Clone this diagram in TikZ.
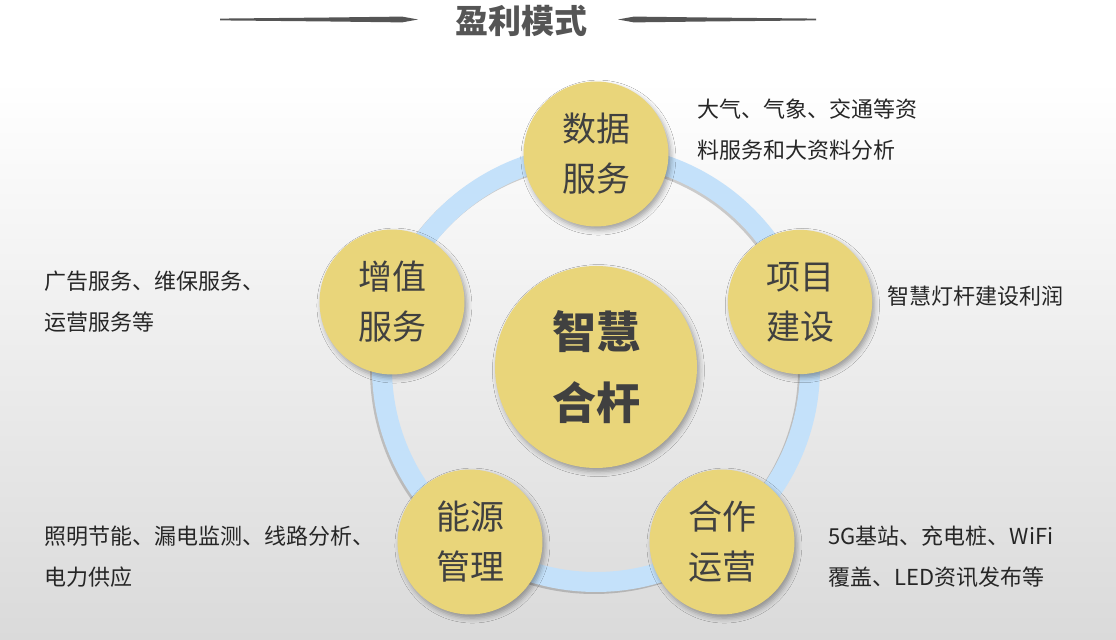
\documentclass[tikz,border=0pt]{standalone}
\usepackage{fontspec}
\setmainfont{Noto Sans CJK SC}
\usetikzlibrary{positioning,shadows.blur}
\definecolor{ringblue}{RGB}{196,225,250}
\definecolor{ballyellow}{RGB}{233,213,122}
\definecolor{textgray}{RGB}{64,64,64}
\definecolor{titlegray}{RGB}{85,85,85}
\definecolor{bggray}{RGB}{218,218,218}
\tikzset{
    profit element/.style={
        circle,fill=ballyellow,
        minimum size=70pt,inner sep=0pt,
        text width=60pt,align=center,
        text=textgray,
        font=\fontsize{17}{25}\selectfont,
        blur shadow={shadow xshift=1.2pt,shadow yshift=-1.8pt,
            shadow blur radius=2.5pt,shadow opacity=35}
    },
    core element/.style={
        profit element,
        minimum size=101pt,text width=80pt,
        font=\fontsize{22}{35.5}\selectfont\bfseries
    },
    desc element/.style={
        anchor=west,inner sep=0pt,align=left,
        text=black!85,
        font=\fontsize{11}{20.5}\selectfont
    }
}

\begin{document}
\begin{tikzpicture}[x=0.5pt,y=-0.5pt]
\useasboundingbox (0,0) rectangle (1116,640);
\fill[white] (0,0) rectangle (1116,80);
\shade[top color=white,bottom color=bggray] (0,80) rectangle (1116,640);

% title with the two tapered arrows
\node[text=titlegray,font=\fontsize{16.5}{20}\selectfont\bfseries] (title) at (521,21) {盈利模式};
\fill[titlegray] (220,18.6) -- (330,17.5) -- (402,16.6) -- (418,19.5) -- (402,22.4) -- (330,21.5) -- (220,20.4) -- cycle;
\fill[titlegray] (816,18.6) -- (706,17.5) -- (634,16.6) -- (618,19.5) -- (634,22.4) -- (706,21.5) -- (816,20.4) -- cycle;

% ring with a faint shadow
\node[circle,minimum size=214pt,inner sep=0pt] (ring) at (596,368) {};
\draw[black,opacity=.18,line width=10pt] ([xshift=-1pt,yshift=-1pt]ring.center) circle[radius=214];
\draw[ringblue,line width=10pt] (ring.center) circle[radius=214];

% pillars
\node[core element] (core) at (596,367) {智慧\\合杆};
\foreach \i/\x/\y/\txt in {0/596/154/数据\\服务,1/800/302/项目\\建设,2/722/542/合作\\运营,3/470/542/能源\\管理,4/392/302/增值\\服务}
    \node[profit element] (mode_\i) at (\x,\y) {\txt};

% descriptions
\node[desc element] (desc_0) at (697,130) {大气、气象、交通等资\\料服务和大资料分析};
\node[desc element] (desc_1) at (887,296) {智慧灯杆建设利润};
\node[desc element] (desc_2) at (828,557) {5G基站、充电桩、WiFi\\覆盖、LED资讯发布等};
\node[desc element] (desc_3) at (44,557) {照明节能、漏电监测、线路分析、\\电力供应};
\node[desc element] (desc_4) at (44,302) {广告服务、维保服务、\\运营服务等};
\end{tikzpicture}
\end{document}
